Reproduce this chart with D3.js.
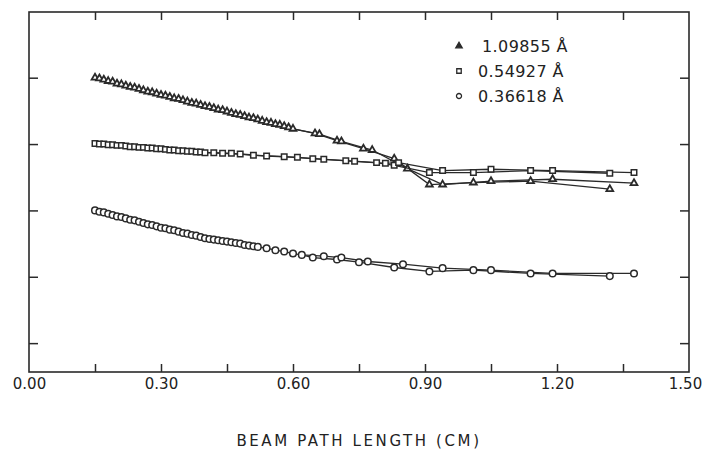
<!DOCTYPE html>
<html>
<head>
<meta charset="utf-8">
<script src="https://cdn.jsdelivr.net/npm/d3@7"></script>
<style>
  body { margin: 0; background: #fff; }
  svg text { font-family: "DejaVu Sans", sans-serif; fill: #222; }
</style>
</head>
<body>
<svg id="chart"></svg>
<script>
let w = 705
let h = 476

// x ticks / labels
let xTickVals = [0.15, 0.30, 0.45, 0.60, 0.75, 0.90, 1.05, 1.20, 1.35]
let xLabelVals = [0.00, 0.30, 0.60, 0.90, 1.20, 1.50]
let yTickVals = [1, 2, 3, 4, 5]

let legendLabels = ["1.09855 Å", "0.54927 Å", "0.36618 Å"]

// 1.09855 A  (triangles) - shared dense part then two runs
let triX = [0.15,0.16,0.17,0.18,0.19,0.20,0.21,0.22,0.23,0.24,0.25,0.26,0.27,0.28,0.29,0.30,0.31,0.32,0.33,0.34,0.35,0.36,0.37,0.38,0.39,0.40,0.41,0.42,0.43,0.44,0.45,0.46,0.47,0.48,0.49,0.50,0.51,0.52,0.53,0.54,0.55,0.56,0.57,0.58,0.59,0.60]
let triY = [5.00,4.99,4.97,4.95,4.94,4.91,4.90,4.88,4.86,4.85,4.83,4.81,4.79,4.78,4.76,4.74,4.73,4.71,4.69,4.68,4.66,4.64,4.62,4.61,4.59,4.57,4.56,4.54,4.52,4.51,4.49,4.47,4.45,4.44,4.42,4.40,4.39,4.37,4.35,4.33,4.32,4.30,4.29,4.27,4.25,4.23]
let triAX = [0.65, 0.70, 0.76, 0.83, 0.91, 1.01, 1.14, 1.32]
let triAY = [4.16, 4.05, 3.93, 3.78, 3.39, 3.42, 3.44, 3.32]
let triBX = [0.66, 0.71, 0.78, 0.86, 0.94, 1.05, 1.19, 1.375]
let triBY = [4.15, 4.04, 3.91, 3.63, 3.39, 3.44, 3.47, 3.41]

// 0.54927 A  (squares)
let sqX = [0.15,0.16,0.17,0.18,0.19,0.20,0.21,0.22,0.23,0.24,0.25,0.26,0.27,0.28,0.29,0.30,0.31,0.32,0.33,0.34,0.35,0.36,0.37,0.38,0.39,0.40]
let sqY = [4.01,4.00,4.00,3.99,3.99,3.98,3.98,3.97,3.96,3.96,3.95,3.95,3.94,3.94,3.93,3.93,3.92,3.91,3.91,3.90,3.90,3.89,3.89,3.88,3.88,3.87]
let sqAX = [0.42, 0.46, 0.51, 0.58, 0.645, 0.72, 0.79, 0.83, 0.91, 1.01, 1.14, 1.32]
let sqAY = [3.87, 3.86, 3.83, 3.81, 3.78, 3.75, 3.72, 3.68, 3.57, 3.57, 3.60, 3.56]
let sqBX = [0.44, 0.48, 0.54, 0.61, 0.67, 0.74, 0.81, 0.84, 0.94, 1.05, 1.19, 1.375]
let sqBY = [3.86, 3.85, 3.82, 3.80, 3.77, 3.74, 3.71, 3.72, 3.60, 3.62, 3.60, 3.57]

// 0.36618 A  (circles)
let ciX = [0.15,0.16,0.17,0.18,0.19,0.20,0.21,0.22,0.23,0.24,0.25,0.26,0.27,0.28,0.29,0.30,0.31,0.32,0.33,0.34,0.35,0.36,0.37,0.38,0.39,0.40,0.41,0.42,0.43,0.44,0.45,0.46,0.47,0.48,0.49,0.50,0.51,0.52,0.54,0.56,0.58,0.60,0.62]
let ciY = [3.00,2.98,2.97,2.95,2.93,2.91,2.90,2.88,2.86,2.85,2.83,2.81,2.79,2.78,2.76,2.74,2.73,2.71,2.70,2.68,2.66,2.65,2.63,2.62,2.60,2.58,2.57,2.56,2.55,2.54,2.53,2.52,2.51,2.50,2.48,2.47,2.46,2.45,2.43,2.40,2.38,2.35,2.33]
let ciAX = [0.645, 0.70, 0.75, 0.83, 0.91, 1.01, 1.14, 1.32]
let ciAY = [2.29, 2.26, 2.22, 2.14, 2.08, 2.10, 2.05, 2.01]
let ciBX = [0.67, 0.71, 0.77, 0.85, 0.94, 1.05, 1.19, 1.375]
let ciBY = [2.31, 2.29, 2.23, 2.19, 2.13, 2.10, 2.05, 2.05]

let zip = (xs, ys) => xs.map((d, i) => ({x: d, y: ys[i]}))

let series = [
  {sym: d3.symbolTriangle, size: 20, base: zip(triX, triY), runA: zip(triAX, triAY), runB: zip(triBX, triBY)},
  {sym: d3.symbolSquare, size: 30, base: zip(sqX, sqY), runA: zip(sqAX, sqAY), runB: zip(sqBX, sqBY)},
  {sym: d3.symbolCircle, size: 34, base: zip(ciX, ciY), runA: zip(ciAX, ciAY), runB: zip(ciBX, ciBY)}
]

let margin = {left: 29, right: 16, top: 12, bottom: 104}

let svg = d3.select('#chart')
  .attr('width', w)
  .attr('height', h)

let x = d3.scaleLinear().domain([0, 1.5]).range([margin.left, w - margin.right])
let y = d3.scaleLinear().domain([0.565, 5.99]).range([h - margin.bottom, margin.top])

let ink = '#2a2a2a'

// frame
svg.append('rect')
  .attr('x', x(0)).attr('y', y.range()[1])
  .attr('width', x(1.5) - x(0))
  .attr('height', y.range()[0] - y.range()[1])
  .attr('fill', 'none').attr('stroke', ink).attr('stroke-width', 1.6)

svg.append('g').attr('transform', `translate(0,${y.range()[0]})`)
  .call(d3.axisBottom(x).tickValues(xTickVals).tickSize(-8).tickFormat(''))
svg.append('g').attr('transform', `translate(0,${y.range()[1]})`)
  .call(d3.axisTop(x).tickValues(xTickVals).tickSize(-8).tickFormat(''))
svg.append('g').attr('transform', `translate(${x(0)},0)`)
  .call(d3.axisLeft(y).tickValues(yTickVals).tickSize(-9).tickFormat(''))
svg.append('g').attr('transform', `translate(${x(1.5)},0)`)
  .call(d3.axisRight(y).tickValues(yTickVals).tickSize(-9).tickFormat(''))

let xLabels = svg.append('g').attr('transform', `translate(0,${y.range()[0]})`)
  .call(d3.axisBottom(x).tickValues(xLabelVals).tickSize(0).tickPadding(6).tickFormat(d3.format('.2f')))

svg.selectAll('.domain').remove()
svg.selectAll('.tick line').attr('stroke', ink).attr('stroke-width', 1.5)
xLabels.selectAll('text')
  .style('font-size', '15px')
  .attr('fill', ink)
  .attr('dx', d => d == 1.5 ? -4 : 0)

svg.append('text')
  .attr('x', x(0.75)).attr('y', 446)
  .attr('text-anchor', 'middle')
  .style('font-size', '15px')
  .style('letter-spacing', '2.6px')
  .text('BEAM PATH LENGTH (CM)')

let line = d3.line().x(d => x(d.x)).y(d => y(d.y))

series.forEach((s, k) => {
  let last = s.base[s.base.length - 1]
  let g = svg.append('g')
  g.append('path').datum(s.base.concat(s.runA))
    .attr('d', line).attr('fill', 'none').attr('stroke', ink).attr('stroke-width', 1.3)
  g.append('path').datum([last].concat(s.runB))
    .attr('d', line).attr('fill', 'none').attr('stroke', ink).attr('stroke-width', 1.3)
  let pts = s.base.concat(s.runA, s.runB)
  g.selectAll('path.pt').data(pts).join('path')
    .attr('class', 'pt')
    .attr('transform', d => `translate(${x(d.x)},${y(d.y)})`)
    .attr('d', d3.symbol().type(s.sym).size(s.size))
    .attr('fill', '#fff')
    .attr('stroke', ink)
    .attr('stroke-width', k == 0 ? 1.8 : 1.5)
})

// legend
let leg = svg.append('g').attr('transform', 'translate(459,46)')
legendLabels.forEach((t, i) => {
  let row = leg.append('g').attr('transform', `translate(0,${i * 25})`)
  row.append('path')
    .attr('d', d3.symbol().type(series[i].sym).size(i == 0 ? 18 : 20))
    .attr('fill', i == 0 ? ink : '#fff')
    .attr('stroke', ink).attr('stroke-width', 1.3)
  row.append('text')
    .attr('x', i == 0 ? 23 : 19).attr('y', 6)
    .style('font-size', '16px')
    .style('letter-spacing', '0.4px')
    .text(t)
})
</script>
</body>
</html>
